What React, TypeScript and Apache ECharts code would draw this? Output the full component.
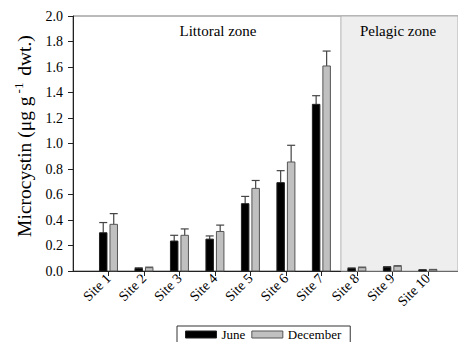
import React, { useEffect, useRef } from "react";
import * as echarts from "echarts";

const sites = ["Site 1", "Site 2", "Site 3", "Site 4", "Site 5", "Site 6", "Site 7", "Site 8", "Site 9", "Site 10"];
const juneValues = [0.30, 0.02, 0.235, 0.25, 0.528, 0.693, 1.307, 0.02, 0.03, 0.008];
const juneErrors = [0.08, 0.005, 0.045, 0.025, 0.057, 0.094, 0.068, 0.004, 0.004, 0.002];
const decValues = [0.366, 0.026, 0.28, 0.31, 0.648, 0.855, 1.608, 0.026, 0.037, 0.01];
const decErrors = [0.084, 0.004, 0.05, 0.05, 0.062, 0.131, 0.117, 0.004, 0.004, 0.002];
const yTicks = [0, 0.2, 0.4, 0.6, 0.8, 1.0, 1.2, 1.4, 1.6, 1.8, 2.0];
const pelagicStart = 7.55;
const xMax = 10.85;

const FONT = "Liberation Serif";
const BAR_W = 7.5;
const OFFSET = 5.25;
const CAP = 8;

function makeSeries(name: string, values: number[], errors: number[], dir: number, fill: string, stroke: string) {
  return {
    name,
    type: "custom",
    z: 5,
    itemStyle: { color: fill, borderColor: stroke, borderWidth: 1 },
    data: values.map((v, i) => [i + 1, v, v + errors[i]]),
    renderItem: (params: any, api: any) => {
      const x = api.value(0);
      const v = api.value(1);
      const top = api.value(2);
      const base = api.coord([x, 0]);
      const vp = api.coord([x, v]);
      const tp = api.coord([x, top]);
      const cx = base[0] + dir * OFFSET;
      return {
        type: "group",
        children: [
          {
            type: "line",
            shape: { x1: cx, y1: vp[1], x2: cx, y2: tp[1] },
            style: { stroke: "#444", lineWidth: 1.2 },
          },
          {
            type: "line",
            shape: { x1: cx - CAP / 2, y1: tp[1], x2: cx + CAP / 2, y2: tp[1] },
            style: { stroke: "#444", lineWidth: 1.2 },
          },
          {
            type: "rect",
            shape: { x: cx - BAR_W / 2, y: vp[1], width: BAR_W, height: base[1] - vp[1] },
            style: { fill, stroke, lineWidth: 1 },
          },
        ],
      };
    },
  };
}

export default function App() {
  const ref = useRef<HTMLDivElement>(null);
  useEffect(() => {
    if (!ref.current) return;
    document.body.style.margin = "0";
    const chart = echarts.init(ref.current, null, { renderer: "svg" });
    chart.setOption({
      animation: false,
      textStyle: { fontFamily: FONT },
      grid: {
        left: 73,
        top: 16,
        right: 0,
        bottom: 71,
        show: true,
        borderColor: "#777",
        borderWidth: 1,
        backgroundColor: "transparent",
      },
      legend: {
        left: 177,
        top: 326,
        padding: [2, 9, 20, 8],
        itemWidth: 31,
        itemHeight: 7,
        itemGap: 6,
        borderColor: "#333",
        borderWidth: 1,
        icon: "rect",
        textStyle: { fontFamily: FONT, fontSize: 13, color: "#000" },
        data: [
          { name: "June", itemStyle: { color: "#000", borderColor: "#222", borderWidth: 1 } },
          { name: "December", itemStyle: { color: "#c0c0c0", borderColor: "#555", borderWidth: 1 } },
        ],
      },
      xAxis: {
        type: "value",
        min: 0,
        max: xMax,
        interval: 1,
        splitLine: { show: false },
        axisLine: { lineStyle: { color: "#222", width: 1 } },
        axisTick: { show: true, length: 5, lineStyle: { color: "#222" }, customValues: sites.map((_, i) => i + 1) },
        axisLabel: {
          customValues: sites.map((_, i) => i + 1),
          formatter: (v: number) => sites[Math.round(v) - 1] || "",
          rotate: 45,
          margin: 5,
          fontFamily: FONT,
          fontSize: 14,
          color: "#000",
        },
      },
      yAxis: {
        type: "value",
        min: 0,
        max: 2,
        interval: 0.2,
        splitLine: { show: false },
        axisLine: { show: true, lineStyle: { color: "#222", width: 1 } },
        axisTick: { show: true, length: 5, lineStyle: { color: "#222" }, customValues: yTicks },
        axisLabel: {
          customValues: yTicks,
          formatter: (v: number) => v.toFixed(1),
          margin: 10,
          fontFamily: FONT,
          fontSize: 14,
          color: "#000",
        },
      },
      graphic: [
        {
          type: "text",
          x: 24,
          y: 136,
          rotation: Math.PI / 2,
          style: {
            text: "{a|Microcystin (μg g}{s|-1}{a| dwt.)}",
            align: "center",
            verticalAlign: "middle",
            fill: "#000",
            rich: {
              a: { fontFamily: FONT, fontSize: 19.5, lineHeight: 24, fill: "#000" },
              s: { fontFamily: FONT, fontSize: 13, verticalAlign: "top", lineHeight: 24, padding: [0, 2, 0, 3], fill: "#000" },
            },
          },
        },
        {
          type: "text",
          x: 218,
          y: 31,
          style: { text: "Littoral zone", fontFamily: FONT, fontSize: 15, fill: "#000", align: "center", verticalAlign: "middle" },
        },
        {
          type: "text",
          x: 398,
          y: 31,
          z: 10,
          style: { text: "Pelagic zone", fontFamily: FONT, fontSize: 15, fill: "#000", align: "center", verticalAlign: "middle" },
        },
      ],
      series: [
        {
          name: "zone",
          type: "line",
          data: [],
          z: 1,
          markArea: {
            silent: true,
            itemStyle: { color: "#eeeeee", borderColor: "#b0b0b0", borderWidth: 1 },
            data: [[{ xAxis: pelagicStart }, { xAxis: xMax }]],
          },
        },
        makeSeries("June", juneValues, juneErrors, -1, "#000000", "#222222"),
        makeSeries("December", decValues, decErrors, 1, "#c0c0c0", "#555555"),
      ],
    });
    return () => chart.dispose();
  }, []);
  return <div ref={ref} style={{ width: 458, height: 342 }} />;
}
